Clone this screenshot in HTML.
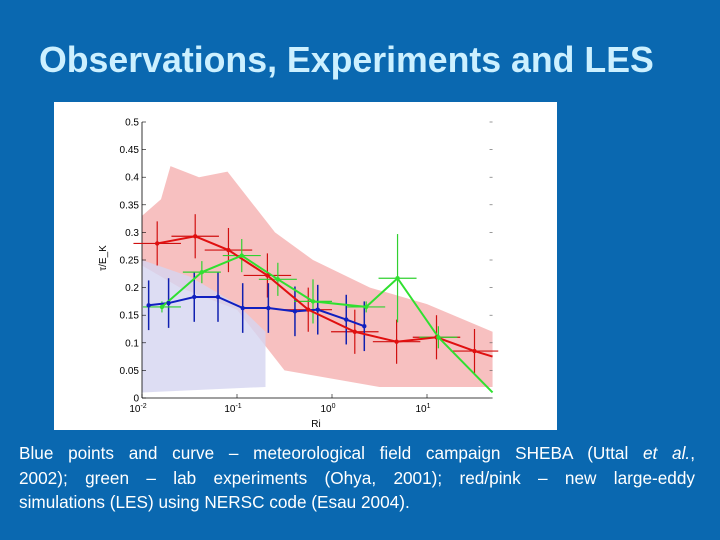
<!DOCTYPE html>
<html><head><meta charset="utf-8"><style>
html,body{margin:0;padding:0}
body{width:720px;height:540px;overflow:hidden;background:#0a68b0;font-family:"Liberation Sans",sans-serif;position:relative}
#title{position:absolute;left:39px;top:40px;color:#ccf0ff;font-weight:bold;font-size:35.7px;white-space:nowrap}
#caption{position:absolute;left:19px;top:441px;width:676px;color:#fff;font-size:17.2px;line-height:24.5px}
#caption .j{text-align:justify;text-align-last:justify;white-space:nowrap}
svg{position:absolute;left:0;top:0}
</style></head><body>
<div id="title">Observations, Experiments and LES</div>
<svg id="chart" width="720" height="540"></svg>
<div id="caption"><div class="j">Blue points and curve – meteorological field campaign SHEBA (Uttal <i>et al.</i>,</div><div class="j">2002); green – lab experiments (Ohya, 2001); red/pink – new large-eddy</div><div>simulations (LES) using NERSC code (Esau 2004).</div></div>
<script>
// log10(Ri) and tau/E_K values
const redX=[-1.84,-1.44,-1.09,-0.68,-0.25,0.24,0.68,1.1,1.5,1.69];
const redY=[0.28,0.293,0.268,0.222,0.16,0.12,0.102,0.11,0.085,0.075];
const redBar=[true,true,true,true,true,true,true,true,true,false];
const greenX=[-1.79,-1.37,-0.95,-0.57,-0.2,0.36,0.69,1.12,1.69];
const greenY=[0.165,0.228,0.258,0.215,0.175,0.165,0.217,0.11,0.01];
const greenErr=[0.01,0.02,0.03,0.03,0.04,0.01,0.08,0.02,0];
const blueX=[-1.93,-1.72,-1.45,-1.2,-0.94,-0.67,-0.39,-0.15,0.15,0.34];
const blueY=[0.168,0.172,0.183,0.183,0.163,0.163,0.157,0.16,0.142,0.13];
const yTicks=[0,0.05,0.1,0.15,0.2,0.25,0.3,0.35,0.4,0.45,0.5];
const xTicks=[-2,-1,0,1];
const NS="http://www.w3.org/2000/svg";
const svg=document.getElementById('chart');
const X0=142,DEC=95,Y0=398,YS=552;
function xs(v){return X0+(v+2)*DEC;}
function ys(v){return Y0-v*YS;}
function el(t,a,p){const e=document.createElementNS(NS,t);for(const k in a)e.setAttribute(k,a[k]);(p||svg).appendChild(e);return e;}
const panel=el('rect',{x:54,y:102,width:503,height:328,fill:'#fff'});


const pink=el('path',{d:`M${xs(-2)},${ys(0.33)} L${xs(-1.8)},${ys(0.36)} L${xs(-1.7)},${ys(0.42)} L${xs(-1.4)},${ys(0.4)} L${xs(-1.1)},${ys(0.41)} L${xs(-0.6)},${ys(0.3)} L${xs(-0.2)},${ys(0.25)} L${xs(0.4)},${ys(0.2)} L${xs(1.0)},${ys(0.17)} L${xs(1.69)},${ys(0.12)} L${xs(1.69)},${ys(0.02)} L${xs(0.5)},${ys(0.02)} L${xs(-0.5)},${ys(0.05)} L${xs(-1.0)},${ys(0.16)} L${xs(-1.6)},${ys(0.2)} L${xs(-2)},${ys(0.24)} Z`,fill:'#f6b5b5',opacity:0.85});


const blue=el('path',{d:`M${xs(-2)},${ys(0.25)} L${xs(-1.5)},${ys(0.22)} L${xs(-1.0)},${ys(0.17)} L${xs(-0.7)},${ys(0.12)} L${xs(-0.7)},${ys(0.02)} L${xs(-2)},${ys(0.01)} Z`,fill:'#d4d4f0',opacity:0.8});


el('line',{x1:X0,y1:Y0,x2:X0,y2:ys(0.5),stroke:'#000','stroke-width':0.8});
el('line',{x1:X0,y1:Y0,x2:xs(1.69),y2:Y0,stroke:'#000','stroke-width':0.8});
yTicks.forEach(t=>{
  el('line',{x1:X0,y1:ys(t),x2:X0+4,y2:ys(t),stroke:'#000','stroke-width':0.6});
  el('line',{x1:xs(1.69)-3,y1:ys(t),x2:xs(1.69),y2:ys(t),stroke:'#555','stroke-width':0.6});
  const tx=el('text',{x:X0-3,y:ys(t)+3.5,'font-size':10,'text-anchor':'end',fill:'#000'});
  tx.textContent=String(t);
  
  
});
xTicks.forEach(t=>{
  el('line',{x1:xs(t),y1:Y0,x2:xs(t),y2:Y0-4,stroke:'#000','stroke-width':0.6});
  const tx=el('text',{x:xs(t)-4,y:Y0+14,'font-size':10,'text-anchor':'middle',fill:'#000'});
  tx.textContent='10';
  const sp=el('tspan',{dy:-4,'font-size':7},tx);sp.textContent=String(t);
  
  
});
const xl=el('text',{x:316,y:427,'font-size':10,'text-anchor':'middle'});xl.textContent='Ri';


const yl=el('text',{x:0,y:0,'font-size':10,'text-anchor':'middle',transform:'translate(106,258) rotate(-90)'});yl.textContent='τ/E_K';


function series(xa,ya,color,name,w){
  const pts=xa.map((x,i)=>xs(x)+','+ys(ya[i])).join(' ');
  const pl=el('polyline',{points:pts,fill:'none',stroke:color,'stroke-width':w});
  
  
}
redX.forEach((x,i)=>{ if(!redBar[i])return;
  el('line',{x1:xs(x),y1:ys(redY[i]-0.04),x2:xs(x),y2:ys(redY[i]+0.04),stroke:'#d01010','stroke-width':1.2});
  el('line',{x1:xs(x-0.25),y1:ys(redY[i]),x2:xs(x+0.25),y2:ys(redY[i]),stroke:'#d01010','stroke-width':1.2});
});
blueX.forEach((x,i)=>{
  el('line',{x1:xs(x),y1:ys(blueY[i]-0.045),x2:xs(x),y2:ys(blueY[i]+0.045),stroke:'#1020b0','stroke-width':1.5});
});
greenX.forEach((x,i)=>{ if(!greenErr[i])return;
  el('line',{x1:xs(x),y1:ys(greenY[i]-greenErr[i]),x2:xs(x),y2:ys(greenY[i]+greenErr[i]),stroke:'#30d030','stroke-width':1.2});
  el('line',{x1:xs(x-0.2),y1:ys(greenY[i]),x2:xs(x+0.2),y2:ys(greenY[i]),stroke:'#30d030','stroke-width':1.2});
});
series(blueX,blueY,'#1020c0','sheba',2);
series(redX,redY,'#e01010','les',2);
series(greenX,greenY,'#30e030','lab',2);
function markers(xa,ya,color,name){
  xa.forEach((x,i)=>{
    const c=el('circle',{cx:xs(x),cy:ys(ya[i]),r:2.2,fill:color});
    
    
  });
}
markers(blueX,blueY,'#1020c0','sheba');
markers(redX.slice(0,9),redY.slice(0,9),'#e01010','les');
markers(greenX.slice(0,8),greenY.slice(0,8),'#30e030','lab');
</script>
</body></html>
